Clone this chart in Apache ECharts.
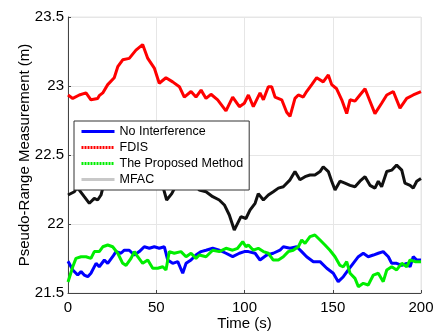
<!DOCTYPE html>
<html>
<head>
<meta charset="utf-8">
<script src="https://cdn.jsdelivr.net/npm/echarts@6/dist/echarts.min.js"></script>
<style>
  html, body { margin: 0; padding: 0; background: #fff; }
  #main { width: 438px; height: 331px; }
</style>
</head>
<body>
<div id="main"></div>
<script>
// [time (s), pseudo-range (m)]
var noInterference = [[0,21.73],[2.7,21.667],[5.5,21.63],[7.4,21.655],[9.2,21.63],[11.2,21.618],[13,21.643],[15.9,21.715],[17.7,21.69],[20.6,21.739],[22.5,21.715],[25.3,21.763],[27.2,21.8],[30,21.788],[31.9,21.81],[34.7,21.81],[37.6,21.775],[40.4,21.8],[43.2,21.835],[46.1,21.824],[48.9,21.835],[51.7,21.824],[54.6,21.835],[56.5,21.739],[59.3,21.715],[62.2,21.727],[65,21.643],[66.9,21.715],[69.7,21.739],[72.5,21.775],[75.4,21.8],[78.2,21.81],[82,21.824],[85.7,21.81],[89.5,21.788],[93.3,21.763],[97.1,21.788],[99.9,21.8],[102.2,21.8],[106,21.788],[108.8,21.739],[112.6,21.775],[116.3,21.788],[120.1,21.81],[122,21.835],[125.8,21.824],[129.6,21.835],[132.4,21.8],[135.2,21.763],[139,21.727],[142.8,21.727],[146.6,21.679],[150.3,21.643],[153.1,21.582],[156,21.618],[158.8,21.667],[161.6,21.715],[164.5,21.763],[167.3,21.788],[170.1,21.763],[173,21.775],[175.8,21.788],[178.6,21.8],[181.5,21.763],[183.4,21.715],[186.2,21.715],[189.1,21.7],[191.9,21.715],[193.8,21.69],[195.6,21.763],[197.6,21.739],[200,21.739]];

var fdis = [[0,22.935],[2.7,22.91],[6.4,22.935],[10.2,22.95],[13,22.9],[16.8,22.91],[17.7,22.93],[19.7,22.95],[22.5,23.01],[26.2,23.06],[28.2,23.14],[31,23.19],[34.7,23.2],[38.5,23.26],[42.3,23.3],[45.2,23.2],[48.9,23.13],[51.7,23.02],[55.5,23.06],[59.3,23.03],[63.1,22.995],[65.9,22.92],[69.7,22.96],[72.5,22.92],[75.4,22.97],[78.2,22.91],[81,22.94],[84.8,22.9],[89.5,22.82],[93.3,22.92],[97.1,22.85],[99.9,22.875],[102.2,22.935],[105,22.85],[108.8,22.95],[110.7,22.9],[113.5,22.995],[115.4,22.995],[117.3,22.92],[121.1,22.9],[123.9,22.81],[125.8,22.78],[128.6,22.91],[130.5,22.935],[133.3,22.92],[135.2,22.96],[138.1,23.01],[140.9,23.06],[144.6,23.03],[147.5,23.08],[149.4,23.01],[152.2,22.98],[155.1,22.9],[157.9,22.8],[159.8,22.9],[162.6,22.89],[165.4,22.935],[168.3,22.98],[171.1,22.89],[173.9,22.8],[177.7,22.875],[180.6,22.935],[184.3,22.96],[188.1,22.84],[191.9,22.91],[195.6,22.935],[200,22.96]];

var proposed = [[0,21.58],[2.7,21.69],[4.5,21.751],[7.4,21.763],[10.2,21.763],[13,21.751],[14.9,21.8],[17.7,21.8],[19.7,21.835],[22.5,21.848],[25.3,21.835],[28.2,21.788],[31,21.715],[32.9,21.7],[35.7,21.751],[37.6,21.8],[39.5,21.763],[42.3,21.715],[45.2,21.739],[48,21.679],[50.8,21.679],[53.7,21.69],[55.5,21.667],[57.4,21.8],[60.2,21.788],[64,21.8],[66.9,21.763],[69.7,21.788],[72.5,21.751],[74.4,21.775],[78.2,21.763],[82,21.81],[85.7,21.8],[89.5,21.824],[93.3,21.81],[96.1,21.824],[99,21.872],[100.8,21.835],[102.2,21.848],[105,21.81],[107.8,21.824],[110.7,21.8],[113.5,21.788],[116.3,21.739],[119.2,21.739],[122,21.763],[124.8,21.8],[127.6,21.81],[130.5,21.835],[132.4,21.884],[134.3,21.86],[137.1,21.908],[139.9,21.92],[142.8,21.884],[145.6,21.848],[148.4,21.81],[151.3,21.763],[154.1,21.7],[156,21.69],[157.9,21.727],[159.8,21.643],[162.6,21.606],[164.5,21.546],[167.3,21.57],[170.1,21.558],[173,21.63],[175.8,21.643],[178.6,21.582],[180.6,21.667],[183.4,21.69],[186.2,21.667],[189.1,21.715],[191.9,21.69],[193.8,21.739],[196.6,21.727],[200,21.727]];

var mfac = [[0,22.21],[3.6,22.234],[4.9,22.26],[6.4,22.246],[9.2,22.198],[12.1,22.15],[14.9,22.186],[16.8,22.174],[18.7,22.21],[19.7,22.26],[22,22.3],[28,22.35],[35,22.3],[42,22.28],[50,22.3],[54,22.26],[55.9,22.174],[58.8,22.22],[62,22.3],[68,22.32],[72.5,22.28],[74.4,22.246],[78.2,22.234],[82,22.198],[85.7,22.174],[88.6,22.138],[91.4,22.065],[94.2,21.956],[96.1,22.005],[98,22.053],[100.8,22.04],[103.1,22.1],[106,22.15],[107.8,22.22],[110.7,22.174],[113.5,22.21],[116.3,22.234],[119.2,22.26],[122,22.27],[125.8,22.32],[128.6,22.38],[131.4,22.32],[134.3,22.343],[137.1,22.355],[139.9,22.355],[142.8,22.38],[144.6,22.415],[147.5,22.38],[149.4,22.31],[151.3,22.246],[154.1,22.31],[156.9,22.296],[159.8,22.28],[162.6,22.27],[165.4,22.31],[168.3,22.343],[171.1,22.28],[173.9,22.26],[175.8,22.31],[177.7,22.27],[180.6,22.38],[183.4,22.39],[186.2,22.427],[189.1,22.39],[190.9,22.296],[193.8,22.28],[195.6,22.26],[197.6,22.31],[200,22.33]];

var chart = echarts.init(document.getElementById('main'));

var font = 'Liberation Sans, Arial, sans-serif';

var option = {
  animation: false,
  grid: {
    left: 68, right: 17, top: 17, bottom: 38,
    outerBoundsMode: 'none',
    containLabel: false,
    show: true,
    borderColor: '#e6e6e6',
    borderWidth: 1
  },
  legend: {
    left: 74,
    top: 121,
    orient: 'vertical',
    backgroundColor: '#fff',
    borderColor: '#333',
    borderWidth: 1,
    borderRadius: 0,
    padding: [4, 6, 4, 6],
    itemWidth: 33,
    itemHeight: 10,
    itemGap: 3,
    itemStyle: { opacity: 0 },
    textStyle: { fontFamily: font, fontSize: 12.5, color: '#000', lineHeight: 13 },
    data: [
      { name: 'No Interference', lineStyle: { color: '#0000ff', width: 3 } },
      { name: 'FDIS', lineStyle: { color: '#ff0000', width: 3, type: [2, 1] } },
      { name: 'The Proposed Method', lineStyle: { color: '#00ee00', width: 3, type: [2, 1] } },
      { name: 'MFAC', lineStyle: { color: '#c8c8c8', width: 3 } }
    ]
  },
  xAxis: {
    type: 'value',
    min: 0, max: 200, interval: 50,
    name: 'Time (s)',
    nameLocation: 'middle',
    nameMoveOverlap: false,
    nameGap: 23,
    nameTextStyle: { fontFamily: font, fontSize: 15, color: '#000' },
    axisLine: { lineStyle: { color: '#444' } },
    axisTick: { inside: true, length: 3, lineStyle: { color: '#444' } },
    axisLabel: { fontFamily: font, fontSize: 15, color: '#000', margin: 7 },
    splitLine: { show: true, lineStyle: { color: '#e6e6e6' } }
  },
  yAxis: {
    type: 'value',
    min: 21.5, max: 23.5, interval: 0.5,
    name: 'Pseudo-Range Measurement (m)',
    nameLocation: 'middle',
    nameMoveOverlap: false,
    nameGap: 36,
    nameTextStyle: { fontFamily: font, fontSize: 15, color: '#000' },
    axisLine: { show: true, lineStyle: { color: '#444' } },
    axisTick: { show: true, inside: true, length: 3, lineStyle: { color: '#444' } },
    axisLabel: { fontFamily: font, fontSize: 15, color: '#000', margin: 4 },
    splitLine: { show: true, lineStyle: { color: '#e6e6e6' } }
  },
  series: [
    {
      name: 'No Interference', type: 'line', data: noInterference,
      symbol: 'none', color: '#0000ff',
      lineStyle: { color: '#0000ff', width: 3 }
    },
    {
      name: 'FDIS', type: 'line', data: fdis,
      symbol: 'none', color: '#ff0000',
      lineStyle: { color: '#ff0000', width: 3 }
    },
    {
      name: 'The Proposed Method', type: 'line', data: proposed,
      symbol: 'none', color: '#00ee00',
      lineStyle: { color: '#00ee00', width: 3 }
    },
    {
      name: 'MFAC', type: 'line', data: mfac,
      symbol: 'none', color: '#111',
      lineStyle: { color: '#111', width: 3 }
    }
  ]
};

chart.setOption(option);
</script>
</body>
</html>
